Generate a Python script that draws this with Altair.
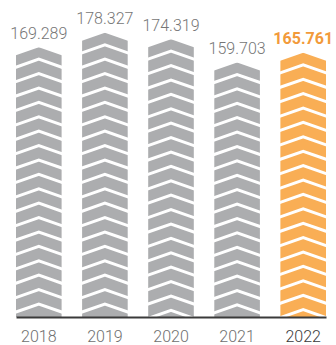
import altair as alt
import pandas as pd

years = ["2018", "2019", "2020", "2021", "2022"]
values = [169.289, 178.327, 174.319, 159.703, 165.761]
labels = ["169.289", "178.327", "174.319", "159.703", "165.761"]
highlight = "2022"

GRAY = "#ACADAF"
ORANGE = "#F9AE55"
LABEL_GRAY = "#767676"
LABEL_ORANGE = "#F29A3A"

W, H = 310, 317
YMAX = 198.9
px = H / YMAX
BAND = W / (5 - 0.31) * 0.69
SZ = BAND * BAND

df = pd.DataFrame({"year": years, "value": values, "label": labels})

# chevron stripe positions (decoration), derived from each bar's value
rows = []
for yr, v in zip(years, values):
    k = 0
    while True:
        off = 12 + 14.4 * k
        if v * px - off < 6:
            break
        rows.append({"year": yr, "pos": v - off / px})
        k += 1
chev = pd.DataFrame(rows)

yscale = alt.Scale(domain=[0, YMAX])
x = alt.X(
    "year:N",
    scale=alt.Scale(paddingInner=0.31, paddingOuter=0),
    axis=alt.Axis(
        title=None, ticks=False, tickSize=0, domainColor="#3a3a3a", domainWidth=2,
        labelFont="Roboto", labelFontSize=16, labelFontWeight=300, labelAngle=0,
        labelPadding=11,
        labelColor={"condition": {"test": "datum.value === '2022'", "value": "#3a3a3a"},
                    "value": "#6f6f6f"},
        zindex=1,
    ),
)

is_hl = alt.datum.year == highlight

bars = alt.Chart(df).mark_bar().encode(
    x=x,
    y=alt.Y("value:Q", scale=yscale, axis=None),
    color=alt.when(is_hl).then(alt.value(ORANGE)).otherwise(alt.value(GRAY)),
)

cut = alt.Chart(df).mark_point(
    shape="M-1.1,-0.2 L1.1,-0.2 L1.1,0.385 L0,0 L-1.1,0.385 Z",
    filled=True, fill="white", opacity=1, size=SZ, strokeWidth=0,
).encode(
    x=alt.X("year:N"),
    y=alt.Y("value:Q", scale=yscale, axis=None),
)

stripes = alt.Chart(chev).mark_point(
    shape="M-1.1,0.385 L0,0 L1.1,0.385",
    filled=False, color="white", strokeWidth=3, size=SZ, opacity=1,
).encode(
    x=alt.X("year:N"),
    y=alt.Y("pos:Q", scale=yscale, axis=None),
)

text_base = alt.Chart(df).encode(
    x=alt.X("year:N"),
    y=alt.Y("value:Q", scale=yscale, axis=None),
    text="label:N",
)
text_gray = text_base.mark_text(
    dy=-8.5, baseline="alphabetic", font="Roboto", fontSize=16, fontWeight=300,
    color=LABEL_GRAY,
).transform_filter(alt.datum.year != highlight)
text_hl = text_base.mark_text(
    dy=-8.5, baseline="alphabetic", font="Roboto", fontSize=16, fontWeight="bold",
    color=LABEL_ORANGE,
).transform_filter(alt.datum.year == highlight)

chart = alt.layer(bars, cut, stripes, text_gray, text_hl).properties(
    width=W, height=H,
    padding={"left": 16, "top": 0, "right": 10, "bottom": 28},
    autosize="none",
).configure_view(stroke=None)

chart.save("out.html", embed_options={"renderer": "svg", "actions": False})
